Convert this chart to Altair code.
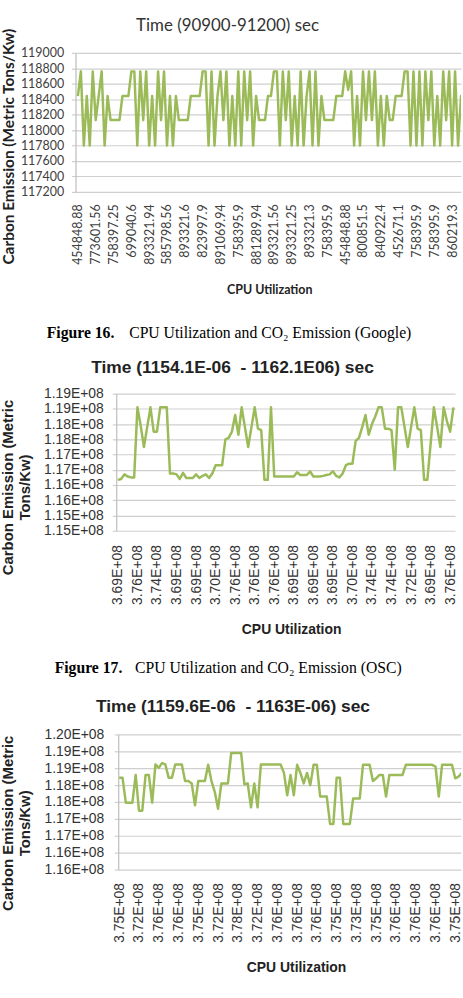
import json
import altair as alt
import pandas as pd

LINE = "#9BBB59"
GRID = "#cfcfcf"
AXIS_LINE = "#bdbdbd"

x_title = "CPU Utilization"
y_title_1 = "Carbon Emission (Metric Tons/Kw)"
y_title_2 = ["Carbon Emission (Metric", "Tons/Kw)"]

# ---------------- Figure 16 (Google) ----------------
g_title = "Time (90900-91200) sec"
g_x_labels = ["454848.88", "773601.56", "758397.25", "699040.6", "893321.94", "585798.56",
              "893321.6", "823997.9", "891069.94", "758395.9", "881289.94", "893321.56",
              "893321.25", "893321.3", "758395.9", "454848.88", "800851.5", "840922.4",
              "452671.1", "758395.9", "758395.9", "860219.3"]
g_y_ticks = [117200, 117400, 117600, 117800, 118000, 118200, 118400, 118600, 118800, 119000]
g_values = [
    118440, 118760, 117800, 118440, 117800, 118760, 118130, 118440, 118760, 117800,
    118440, 118130, 118130, 118130, 118130, 118440, 118440, 118440, 118760, 118760,
    117800, 118760, 118130, 118760, 117800, 118440, 117800, 118760, 118130, 118760,
    117800, 118440, 117800, 118440, 118130, 118130, 118130, 118130, 118440, 118440,
    118440, 118440, 118760, 118760,
    117800, 118760, 117800, 118440, 118760, 118130, 118760, 117800, 118440, 117800,
    118760, 117800, 118760, 118130, 118760, 117800, 118440, 118130, 118130, 118130,
    118440, 118440, 118760, 118760,
    117800, 118760, 118130, 118760, 117800, 118440, 117800, 118760, 117800, 118440,
    118760, 117800, 118760, 117800, 118440, 118130, 118130, 118130, 118130, 118440,
    118440, 118440, 118760, 118520, 118760,
    117800, 118440, 117800, 118760, 118130, 118760, 118130, 118760, 117800, 118440,
    117800, 118440, 118130, 118130, 118440, 118440, 118440, 118760, 118760,
    117800, 118760, 117800, 118760, 117800, 118760, 118130, 118760, 117800, 118440,
    117800, 118760, 118130, 118760, 117800, 118760, 117800, 118440, 118130, 118440,
]

# ---------------- Figure 17 (OSC) ----------------
o_title = "Time (1154.1E-06\u00a0 - 1162.1E06) sec"
o_x_labels = ["3.69E+08", "3.76E+08", "3.74E+08", "3.69E+08", "3.69E+08", "3.70E+08",
              "3.76E+08", "3.76E+08", "3.76E+08", "3.69E+08", "3.69E+08", "3.69E+08",
              "3.70E+08", "3.74E+08", "3.74E+08", "3.72E+08", "3.69E+08", "3.76E+08"]
o_y_ticks = [114.8, 115.3, 115.8, 116.3, 116.8, 117.3, 117.8, 118.3, 118.8, 119.3]
o_values = [  # millions
    116.47, 116.50, 116.65, 116.58, 116.55, 116.55, 118.85, 118.25, 117.55, 118.20,
    118.85, 118.05, 118.05, 118.85, 118.85, 118.85, 116.68, 116.68, 116.65, 116.50,
    116.70, 116.53, 116.53, 116.53, 116.65, 116.53, 116.60, 116.65, 116.53, 116.68,
    116.95, 116.95, 116.95, 117.80, 117.85, 118.05, 118.60, 117.95, 118.85, 118.20,
    117.55, 118.20, 118.85, 118.15, 118.10, 116.47, 116.47, 118.85, 116.58, 116.58,
    116.58, 116.58, 116.58, 116.58, 116.58, 116.72, 116.63, 116.63, 116.63, 116.75,
    116.58, 116.58, 116.58, 116.60, 116.63, 116.65, 116.75, 116.60, 116.55, 116.68,
    116.95, 117.00, 117.00, 117.75, 117.85, 118.20, 118.60, 117.95, 118.30, 118.55,
    118.85, 118.85, 118.15, 118.15, 118.10, 116.80, 118.85, 118.85, 118.20, 117.55,
    118.20, 118.85, 118.15, 118.10, 116.47, 116.47, 117.65, 118.85, 118.20, 117.55,
    118.85, 118.40, 118.05, 118.85,
]

# ---------------- Figure 18 ----------------
s_title = "Time (1159.6E-06\u00a0 - 1163E-06) sec"
s_x_labels = ["3.75E+08", "3.72E+08", "3.76E+08", "3.76E+08", "3.75E+08", "3.72E+08",
              "3.78E+08", "3.72E+08", "3.76E+08", "3.76E+08", "3.76E+08", "3.75E+08",
              "3.73E+08", "3.75E+08", "3.76E+08", "3.76E+08", "3.76E+08", "3.75E+08"]
s_y_ticks = [115.8, 116.3, 116.8, 117.3, 117.8, 118.3, 118.8, 119.3, 119.8]
s_values = [  # millions
    118.52, 118.52, 117.78, 117.78, 117.78, 118.60, 117.54, 117.54, 118.60, 118.60,
    117.78, 118.91, 118.81, 118.95, 118.91, 118.52, 118.52, 118.91, 118.91, 118.91,
    118.42, 118.42, 118.35, 117.70, 118.42, 118.42, 118.42, 118.90, 118.42, 118.10,
    117.60, 118.35, 118.35, 118.35, 119.25, 119.25, 119.25, 119.25, 118.32, 118.35,
    117.64, 118.35, 117.64, 118.91, 118.91, 118.91, 118.91, 118.91, 118.91, 118.91,
    118.66, 118.00, 118.60, 118.00, 118.90, 118.66, 118.35, 118.66, 118.30, 118.90,
    118.90, 117.96, 117.96, 117.96, 117.15, 117.15, 118.52, 118.52, 117.15, 117.15,
    117.15, 117.90, 117.90, 117.90, 118.90, 118.90, 118.90, 118.42, 118.50, 118.60,
    118.60, 117.96, 118.60, 118.60, 118.60, 118.60, 118.60, 118.90, 118.90, 118.90,
    118.90, 118.90, 118.90, 118.90, 118.90, 118.90, 118.85, 117.96, 118.90, 118.90,
    118.90, 118.90, 118.50, 118.55, 118.66, 118.70,
]

cap16 = ["Figure 16.", "CPU Utilization and CO\u2082 Emission (Google)"]
cap17 = ["Figure 17.", "CPU Utilization and CO\u2082 Emission (OSC)"]


def x_axis(labels, font, size, color, pad, tfont, tsize, tweight, tx, ty):
    return alt.Axis(
        values=list(range(0, 6 * len(labels), 6)),
        labelExpr=json.dumps(labels) + "[round(datum.value / 6)]",
        labelAngle=-90, labelFlush=False, labelOverlap=False, labelBound=False,
        ticks=False, domain=False, grid=False,
        labelFont=font, labelFontSize=size, labelColor=color, labelPadding=pad,
        title=x_title, titleFont=tfont, titleFontSize=tsize, titleFontWeight=tweight,
        titleColor="#222", titleX=tx, titleY=ty, titleAlign="center", titleBaseline="middle",
    )


def y_axis(ticks, label_expr, font, size, color, pad, offset, title, tfont, tsize, tx, ty, lh):
    return alt.Axis(
        values=ticks, labelExpr=label_expr, offset=offset,
        grid=True, gridColor=GRID, gridWidth=1.2,
        domain=True, domainColor=AXIS_LINE, domainWidth=1.2,
        ticks=True, tickSize=4, tickColor=GRID, tickWidth=1.2,
        labelFont=font, labelFontSize=size, labelColor=color, labelPadding=pad,
        title=title, titleFont=tfont, titleFontSize=tsize, titleFontWeight="bold",
        titleColor="#222", titleAngle=270, titleX=tx, titleY=ty,
        titleAlign="center", titleBaseline="middle", titleLineHeight=lh,
    )


# Chart 1
df_g = pd.DataFrame({"g_i": list(range(len(g_values))), "g_v": g_values})
chart1 = alt.Chart(df_g).mark_line(color=LINE, strokeWidth=2.5, strokeJoin="round", clip=True).encode(
    x=alt.X("g_i:Q", scale=alt.Scale(domain=[-0.8, 129.0], nice=False, zero=False),
            axis=x_axis(g_x_labels, "Lato", 12.5, "#404040", 12, "Lato", 12.5, "bold", 195, 98)),
    y=alt.Y("g_v:Q", scale=alt.Scale(domain=[117200, 119000], nice=False, zero=False),
            axis=y_axis(g_y_ticks, "format(datum.value, 'd')", "Lato", 12.5, "#404040", 8, 0,
                        y_title_1, "Lato", 15.5, -67, 94, 16)),
).properties(
    width=388, height=140,
    title=alt.TitleParams(g_title, font="Lato", fontSize=17, fontWeight="normal", color="#333",
                          anchor="middle", frame="group", offset=-7, dx=-41),
)

# Chart 2
df_o = pd.DataFrame({"o_i": list(range(len(o_values))), "o_v": o_values})
chart2 = alt.Chart(df_o).mark_line(color=LINE, strokeWidth=2.5, strokeJoin="round", clip=True).encode(
    x=alt.X("o_i:Q", scale=alt.Scale(domain=[-0.5, 103.5], range=[41, 382], nice=False, zero=False),
            axis=x_axis(o_x_labels, "Liberation Sans", 14, "#333", 14, "Liberation Sans", 14, "bold", 217, 99)),
    y=alt.Y("o_v:Q", scale=alt.Scale(domain=[114.8, 119.3], nice=False, zero=False),
            axis=y_axis(o_y_ticks, "format(datum.value / 100, '.2f') + 'E+08'", "Liberation Sans", 14,
                        "#333", 9, -41, y_title_2, "Liberation Sans", 15, -109.5, 94, 17)),
).properties(
    width=382, height=138,
    title=alt.TitleParams(o_title, font="Liberation Sans", fontSize=17.5, fontWeight="bold", color="#222",
                          anchor="middle", frame="group", offset=10, dx=-33),
)

# Chart 3
df_s = pd.DataFrame({"s_i": list(range(len(s_values))), "s_v": s_values})
chart3 = alt.Chart(df_s).mark_line(color=LINE, strokeWidth=2.5, strokeJoin="round", clip=True).encode(
    x=alt.X("s_i:Q", scale=alt.Scale(domain=[-0.3, 103.75], range=[43, 388], nice=False, zero=False),
            axis=x_axis(s_x_labels, "Liberation Sans", 14, "#333", 13, "Liberation Sans", 14, "bold", 222, 99)),
    y=alt.Y("s_v:Q", scale=alt.Scale(domain=[115.8, 119.8], nice=False, zero=False),
            axis=y_axis(s_y_ticks, "format(datum.value / 100, '.2f') + 'E+08'", "Liberation Sans", 14,
                        "#333", 10.5, -43, y_title_2, "Liberation Sans", 15, -111.5, 89, 17)),
).properties(
    width=388, height=136,
    title=alt.TitleParams(s_title, font="Liberation Sans", fontSize=17.5, fontWeight="bold", color="#222",
                          anchor="middle", frame="group", offset=12, dx=-35.5),
)


def caption(parts, xb, xr, y, h):
    bold = alt.Chart(pd.DataFrame({"t": [parts[0]]})).mark_text(
        font="Liberation Serif", fontSize=15.8, fontWeight="bold", align="left", baseline="middle", color="black"
    ).encode(text="t:N", x=alt.value(xb), y=alt.value(y))
    rest = alt.Chart(pd.DataFrame({"t": [parts[1]]})).mark_text(
        font="Liberation Serif", fontSize=15.8, align="left", baseline="middle", color="black"
    ).encode(text="t:N", x=alt.value(xr), y=alt.value(y))
    return alt.layer(bold, rest).properties(width=388, height=h)


cap1 = caption(cap16, -29, 54, 37, 63)
cap2 = caption(cap17, -21, 60, 32, 62)

chart = alt.vconcat(chart1, cap1, chart2, cap2, chart3, spacing=0).resolve_scale(
    x="independent", y="independent"
).properties(
    padding={"left": 0, "top": 14, "right": 0, "bottom": 0},
    background="white",
).configure_view(strokeWidth=0)

chart.save("out.html", embed_options={"renderer": "svg", "actions": False})
